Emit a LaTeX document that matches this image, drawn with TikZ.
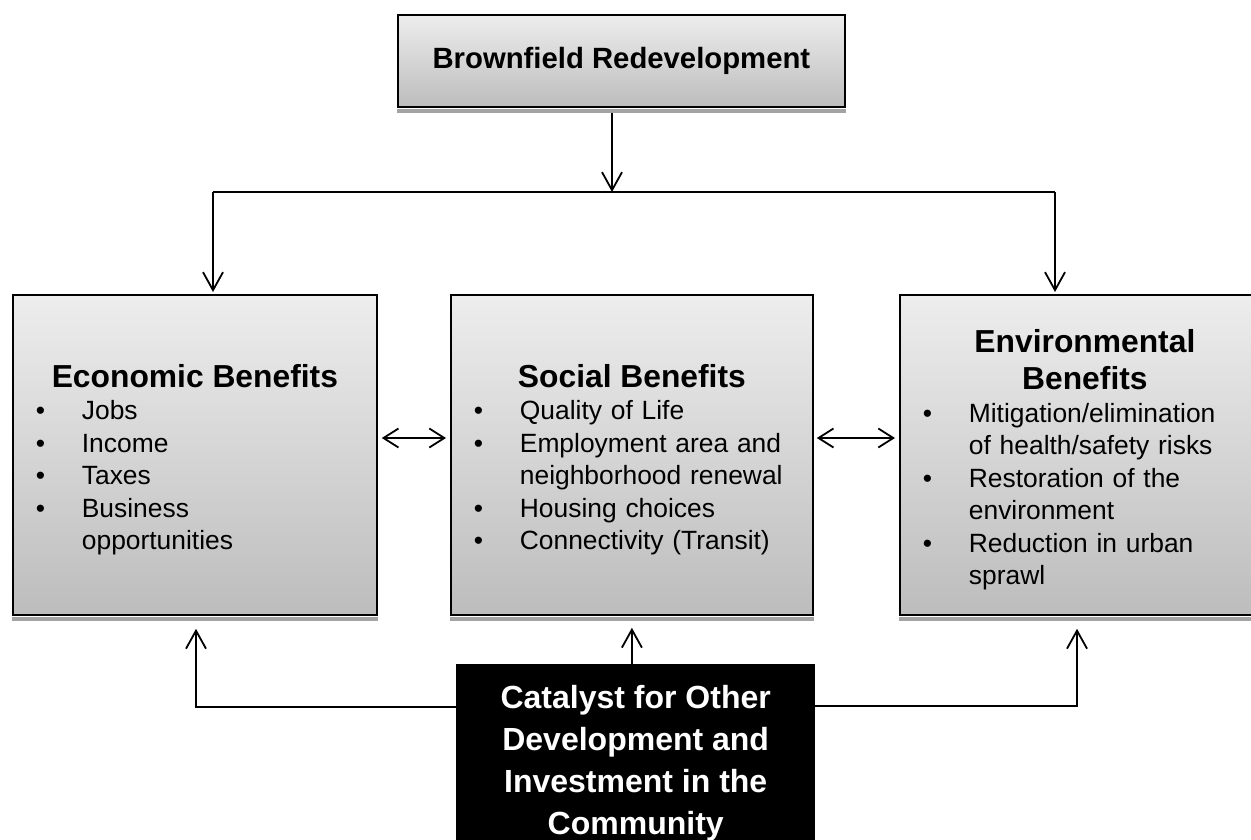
\documentclass[tikz,border=0pt]{standalone}
\usepackage{fontspec}
\setmainfont{Liberation Sans}
\usetikzlibrary{arrows.meta,positioning}
\setlength{\parindent}{0pt}

\definecolor{boxtop}{gray}{0.93}
\definecolor{boxbot}{gray}{0.74}
\definecolor{dropshade}{gray}{0.64}

\newcommand\btitle[1]{{\centering\fontsize{31.8pt}{37pt}\bfseries\selectfont\rule{0pt}{33pt}#1\par}}
\newcommand\bitem[1]{\hspace*{23pt}\makebox[46pt][l]{\textbullet}#1\par}
\newcommand\bmore[1]{\hspace*{69pt}#1\par}

\begin{document}
\begin{tikzpicture}[
    x=1pt,y=-1pt,
    gradbox/.style={
        draw=black,
        line width=1.8pt,
        top color=boxtop,
        bottom color=boxbot,
        anchor=north west,
        inner sep=0pt
    },
    headbox/.style={
        gradbox,
        minimum width=447pt,
        minimum height=92pt,
        font=\fontsize{29.3pt}{35pt}\bfseries\selectfont
    },
    benbox/.style={
        gradbox,
        text width=#1,
        minimum height=320pt,
        font=\fontsize{26.4pt}{32.5pt}\selectfont
    },
    catbox/.style={
        fill=black,
        text=white,
        anchor=north west,
        inner sep=0pt,
        minimum width=359pt,
        minimum height=198pt,
        align=center,
        font=\fontsize{32pt}{42pt}\bfseries\selectfont
    },
    link/.style={
        line width=1.8pt,
        -{Straight Barb[length=18pt,width=20pt]}
    },
    duallink/.style={
        line width=1.8pt,
        {Straight Barb[length=15pt,width=19pt]}-{Straight Barb[length=15pt,width=19pt]}
    }
]
  \useasboundingbox (0,0) rectangle (1251,839);

  \node[headbox] (brown) at (397,14) {Brownfield Redevelopment};

  \node[benbox=364pt] (econ) at (12,294) {%
    \btitle{Economic Benefits}
    \bitem{Jobs}
    \bitem{Income}
    \bitem{Taxes}
    \bitem{Business}
    \bmore{opportunities}};

  \node[benbox=362pt] (social) at (450,294) {%
    \btitle{Social Benefits}
    \bitem{Quality of Life}
    \bitem{Employment area and}
    \bmore{neighborhood renewal}
    \bitem{Housing choices}
    \bitem{Connectivity (Transit)}};

  \node[benbox=370pt] (env) at (899,294) {%
    \btitle{Environmental\\Benefits}
    \bitem{Mitigation/elimination}
    \bmore{of health/safety risks}
    \bitem{Restoration of the}
    \bmore{environment}
    \bitem{Reduction in urban}
    \bmore{sprawl}};

  \node[catbox] (cat) at (456,664) {Catalyst for Other\\Development and\\Investment in the\\Community};

  % shadow strips under the grey boxes
  \foreach \Box in {brown,econ,social,env} {
    \fill[dropshade] ([yshift=-0.9pt]\Box.south west) rectangle ([yshift=-4.9pt]\Box.south east);
  }

  % top split
  \coordinate (stem) at (612,192);
  \coordinate (barL) at (213,192);
  \coordinate (barR) at (1055,192);
  \draw[link] ([yshift=-4.9pt]brown.south -| stem) -- (stem);
  \draw[line width=1.8pt] (barL) -- (barR);
  \draw[link,shorten >=2pt] (barL) -- (barL |- econ.north);
  \draw[link,shorten >=2pt] (barR) -- (barR |- env.north);

  % side links
  \coordinate (mid) at (0,438);
  \draw[duallink] ([xshift=4pt]econ.east |- mid) -- ([xshift=-4pt]social.west |- mid);
  \draw[duallink] ([xshift=3pt]social.east |- mid) -- ([xshift=-4pt]env.west |- mid);

  % catalyst links
  \coordinate (rowL) at (196,707);
  \coordinate (rowR) at (1077,706);
  \draw[link,shorten >=12pt] (cat.north -| social.south) -- (social.south);
  \draw[link] (cat.west |- rowL) -- (rowL) -- ([yshift=-13pt]econ.south -| rowL);
  \draw[link] (cat.east |- rowR) -- (rowR) -- ([yshift=-13pt]env.south -| rowR);
\end{tikzpicture}
\end{document}
